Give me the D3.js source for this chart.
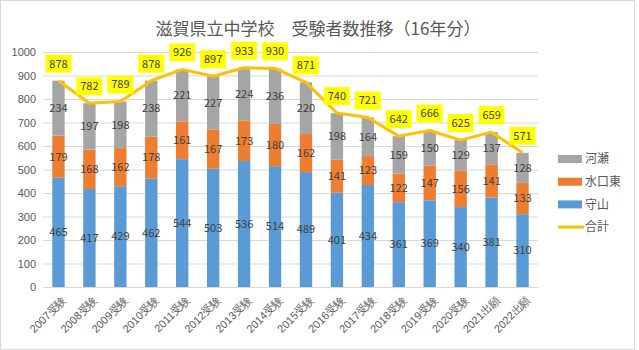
<!DOCTYPE html>
<html>
<head>
<meta charset="utf-8">
<script src="https://cdn.jsdelivr.net/npm/d3@7"></script>
<style>
  body { margin: 0; background: #fff; }
  svg { font-family: "Noto Sans CJK JP", "Noto Sans", sans-serif; }
</style>
</head>
<body>
<div id="plot"></div>
<script>
// chart data
let years = ['2007受験','2008受験','2009受験','2010受験','2011受験','2012受験','2013受験','2014受験',
             '2015受験','2016受験','2017受験','2018受験','2019受験','2020受験','2021出願','2022出願'];
let moriyama  = [465,417,429,462,544,503,536,514,489,401,434,361,369,340,381,310];
let minakuchi = [179,168,162,178,161,167,173,180,162,141,123,122,147,156,141,133];
let kawase    = [234,197,198,238,221,227,224,236,220,198,164,159,150,129,137,128];
let total     = [878,782,789,878,926,897,933,930,871,740,721,642,666,625,659,571];
let yTicks = [0,100,200,300,400,500,600,700,800,900,1000];

window.addEventListener('load', main);

function main(){
  let [ figWidth, figHeight ] = [639, 350];
  let svg = d3.select('#plot').append('svg')
              .attr('width', figWidth)
              .attr('height', figHeight);

  // outer frame
  svg.append('rect').attr('x', 0.5).attr('y', 0.5)
     .attr('width', 634).attr('height', 349)
     .attr('fill', '#fff').attr('stroke', '#d9d9d9');

  let scX = d3.scaleBand().domain(years).range([43, 538]).paddingInner(0.6).paddingOuter(0.3);
  let scY = d3.scaleLinear().domain([0, 1000]).range([287, 52]);

  // title
  svg.append('text').attr('x', 318).attr('y', 35)
     .attr('text-anchor', 'middle').attr('font-size', 17).attr('fill', '#595959')
     .text('滋賀県立中学校　受験者数推移（16年分）');

  // grid + y labels
  let yAxis = d3.axisLeft(scY).tickValues(yTicks).tickFormat(d3.format('d'))
                .tickSize(-(538 - 43)).tickPadding(7);
  let gy = svg.append('g').attr('transform', 'translate(43,0)').call(yAxis);
  gy.select('.domain').remove();
  gy.selectAll('line').attr('stroke', '#d9d9d9');
  gy.selectAll('text').attr('font-size', 11).attr('fill', '#595959');

  // x axis
  let gx = svg.append('g').attr('transform', 'translate(0,287)').call(d3.axisBottom(scX).tickSize(0));
  gx.select('.domain').attr('stroke', '#d9d9d9');
  gx.selectAll('text')
    .attr('font-size', 11).attr('fill', '#595959')
    .attr('text-anchor', 'end')
    .attr('x', 0).attr('y', 0).attr('dy', '0.35em')
    .attr('transform', 'translate(6,11) rotate(-45)');

  // stacked bars
  let series = [
    { name: '守山', vals: moriyama, color: '#5b9bd5' },
    { name: '水口東', vals: minakuchi, color: '#ed7d31' },
    { name: '河瀬', vals: kawase, color: '#a5a5a5' }
  ];
  let base = years.map(() => 0);
  series.forEach(s => {
    let g = svg.append('g').attr('id', s.name);
    let starts = base.slice();
    g.selectAll('rect').data(s.vals).join('rect')
     .attr('x', (d, i) => scX(years[i]))
     .attr('width', scX.bandwidth())
     .attr('y', (d, i) => scY(starts[i] + d))
     .attr('height', (d, i) => scY(starts[i]) - scY(starts[i] + d))
     .attr('fill', s.color);
    g.selectAll('text').data(s.vals).join('text')
     .attr('x', (d, i) => scX(years[i]) + scX.bandwidth() / 2)
     .attr('y', (d, i) => scY(starts[i] + d / 2))
     .attr('dy', '0.35em')
     .attr('text-anchor', 'middle').attr('font-size', 11).attr('fill', '#404040')
     .text(d => d);
    base = base.map((b, i) => b + s.vals[i]);
  });

  // total line
  let cx = i => scX(years[i]) + scX.bandwidth() / 2;
  let line = d3.line().x((d, i) => cx(i)).y(d => scY(d));
  svg.append('path').attr('d', line(total))
     .attr('fill', 'none').attr('stroke', '#ffc000').attr('stroke-width', 3)
     .attr('stroke-linejoin', 'round');

  // total labels in yellow boxes
  let lg = svg.append('g');
  total.forEach((d, i) => {
    let y = scY(d) - 17;
    lg.append('rect').attr('x', cx(i) - 13).attr('y', y - 9)
      .attr('width', 26).attr('height', 18).attr('fill', '#ffff00');
    lg.append('text').attr('x', cx(i)).attr('y', y).attr('dy', '0.35em')
      .attr('text-anchor', 'middle').attr('font-size', 11).attr('fill', '#404040')
      .text(d);
  });

  // legend
  let legend = [
    { name: '河瀬', color: '#a5a5a5', type: 'box' },
    { name: '水口東', color: '#ed7d31', type: 'box' },
    { name: '守山', color: '#5b9bd5', type: 'box' },
    { name: '合計', color: '#ffc000', type: 'line' }
  ];
  legend.forEach((l, i) => {
    let y = 159 + i * 22.7;
    if (l.type === 'box') {
      svg.append('rect').attr('x', 558).attr('y', y - 4).attr('width', 24).attr('height', 8).attr('fill', l.color);
    } else {
      svg.append('line').attr('x1', 558).attr('x2', 584).attr('y1', y).attr('y2', y)
         .attr('stroke', l.color).attr('stroke-width', 3);
    }
    svg.append('text').attr('x', 585).attr('y', y).attr('dy', '0.35em')
       .attr('font-size', 12).attr('fill', '#595959').text(l.name);
  });
}
</script>
</body>
</html>
